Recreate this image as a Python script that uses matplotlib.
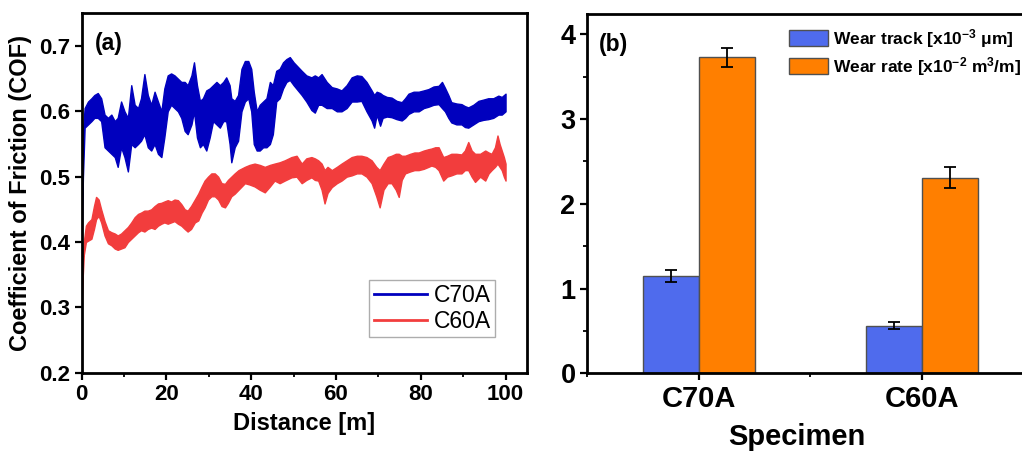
import numpy as np
import matplotlib.pyplot as plt
from matplotlib.lines import Line2D
from matplotlib.ticker import MultipleLocator

plt.rcParams['font.family'] = ['Liberation Sans', 'DejaVu Sans']
plt.rcParams['mathtext.fontset'] = 'custom'
plt.rcParams['mathtext.rm'] = 'Liberation Sans:bold'
plt.rcParams['mathtext.it'] = 'Liberation Sans:bold'
plt.rcParams['mathtext.bf'] = 'Liberation Sans:bold'

# ---- (a) COF vs distance, read as lower / upper edge of the noisy band ----
d_c70 = [0.0, 0.3, 0.7, 1.5, 2.3, 3.0, 3.8, 4.6, 5.4, 6.2, 7.0, 7.8, 8.5, 9.3, 10.1,
         10.9, 11.7, 12.5, 13.3, 14.0, 14.8, 15.6, 16.4, 17.2, 18.0, 18.8, 19.5, 20.3,
         21.1, 21.9, 22.7, 23.5, 24.3, 25.0, 25.9, 26.5, 27.2, 27.9, 28.6, 29.4, 30.2,
         31.0, 31.8, 32.6, 33.4, 34.1, 34.9, 35.3, 36.1, 36.9, 37.7, 38.5, 39.3, 40.0,
         40.6, 41.3, 42.0, 42.8, 43.6, 44.4, 45.1, 45.9, 46.7, 47.5, 48.3, 49.1, 50.0,
         51.9, 53.0, 54.2, 55.0, 55.8, 56.6, 57.8, 59.0, 60.2, 61.3, 62.5, 63.7, 64.9,
         66.0, 67.2, 68.4, 69.0, 69.6, 70.4, 71.0, 72.0, 73.1, 74.3, 75.5, 76.3, 77.1,
         78.3, 79.5, 80.7, 81.8, 83.0, 84.2, 85.0, 85.7, 86.5, 87.2, 88.4, 89.6, 90.4,
         91.2, 92.4, 93.6, 94.8, 95.9, 97.1, 98.3, 99.1, 100.0]
lo_c70 = [0.40, 0.50, 0.575, 0.58, 0.585, 0.59, 0.59, 0.585, 0.545, 0.54, 0.535, 0.53,
          0.515, 0.545, 0.53, 0.508, 0.55, 0.545, 0.55, 0.555, 0.565, 0.545, 0.54, 0.55,
          0.535, 0.53, 0.56, 0.60, 0.61, 0.605, 0.60, 0.59, 0.57, 0.565, 0.58, 0.60, 0.56,
          0.545, 0.55, 0.54, 0.56, 0.585, 0.58, 0.575, 0.585, 0.585, 0.55, 0.522, 0.545,
          0.555, 0.60, 0.615, 0.62, 0.60, 0.55, 0.54, 0.54, 0.545, 0.545, 0.55, 0.565,
          0.615, 0.62, 0.635, 0.645, 0.648, 0.64, 0.625, 0.615, 0.602, 0.598, 0.61, 0.61,
          0.605, 0.605, 0.60, 0.60, 0.605, 0.615, 0.615, 0.616, 0.60, 0.586, 0.575, 0.595,
          0.578, 0.59, 0.592, 0.591, 0.588, 0.586, 0.59, 0.596, 0.60, 0.60, 0.605, 0.607,
          0.61, 0.611, 0.605, 0.60, 0.59, 0.583, 0.58, 0.58, 0.576, 0.575, 0.58, 0.585,
          0.587, 0.588, 0.59, 0.595, 0.595, 0.60]
hi_c70 = [0.44, 0.57, 0.605, 0.615, 0.62, 0.625, 0.628, 0.62, 0.595, 0.59, 0.595, 0.585,
          0.59, 0.615, 0.60, 0.59, 0.64, 0.61, 0.605, 0.62, 0.657, 0.625, 0.61, 0.63,
          0.615, 0.60, 0.635, 0.655, 0.658, 0.655, 0.65, 0.645, 0.645, 0.64, 0.655, 0.675,
          0.64, 0.616, 0.62, 0.632, 0.635, 0.64, 0.645, 0.64, 0.645, 0.652, 0.64, 0.62,
          0.616, 0.625, 0.665, 0.677, 0.677, 0.665, 0.63, 0.60, 0.61, 0.615, 0.62, 0.645,
          0.64, 0.662, 0.665, 0.675, 0.68, 0.683, 0.675, 0.662, 0.655, 0.652, 0.655, 0.652,
          0.657, 0.645, 0.637, 0.635, 0.632, 0.64, 0.652, 0.655, 0.654, 0.645, 0.632, 0.625,
          0.63, 0.628, 0.625, 0.622, 0.621, 0.616, 0.614, 0.62, 0.627, 0.63, 0.63, 0.632,
          0.634, 0.638, 0.639, 0.645, 0.636, 0.625, 0.614, 0.612, 0.611, 0.608, 0.606, 0.61,
          0.616, 0.618, 0.62, 0.62, 0.624, 0.622, 0.627]

d_c60 = [0.0, 0.2, 0.5, 1.0, 1.5, 2.3, 2.9, 3.4, 4.0, 4.6, 5.4, 6.2, 7.0, 7.8, 8.5, 9.3,
         10.1, 10.9, 11.7, 12.5, 13.3, 14.0, 14.8, 15.6, 16.4, 17.2, 18.0, 18.8, 19.5,
         20.3, 21.1, 21.9, 22.7, 23.5, 24.3, 25.0, 25.8, 26.7, 27.5, 28.3, 29.0, 29.8,
         30.6, 31.4, 32.2, 33.0, 33.8, 34.5, 35.3, 36.1, 37.0, 38.5, 39.6, 40.8, 42.0,
         43.2, 44.4, 45.5, 46.7, 47.9, 49.5, 50.7, 51.9, 53.0, 54.2, 55.0, 55.8, 56.6,
         57.3, 58.0, 59.0, 60.2, 61.3, 62.5, 63.7, 64.9, 66.0, 67.2, 68.4, 69.5, 70.3,
         71.2, 72.2, 73.1, 74.1, 74.8, 75.5, 76.3, 77.5, 78.5, 79.5, 80.7, 81.8, 82.5,
         83.4, 84.2, 85.3, 86.2, 87.2, 88.4, 89.6, 90.4, 91.2, 92.0, 92.8, 94.0, 95.2,
         96.0, 96.7, 97.5, 98.1, 98.6, 99.1, 99.6, 100.0]
lo_c60 = [0.30, 0.34, 0.38, 0.40, 0.402, 0.405, 0.42, 0.435, 0.44, 0.43, 0.41, 0.398,
          0.395, 0.39, 0.388, 0.39, 0.392, 0.40, 0.405, 0.41, 0.415, 0.418, 0.416, 0.42,
          0.422, 0.42, 0.425, 0.428, 0.43, 0.428, 0.43, 0.432, 0.428, 0.425, 0.42, 0.416,
          0.42, 0.43, 0.433, 0.445, 0.453, 0.465, 0.47, 0.47, 0.465, 0.455, 0.453, 0.46,
          0.47, 0.474, 0.48, 0.49, 0.488, 0.485, 0.48, 0.476, 0.485, 0.494, 0.49, 0.494,
          0.499, 0.50, 0.49, 0.495, 0.499, 0.495, 0.494, 0.48, 0.459, 0.475, 0.484, 0.49,
          0.494, 0.50, 0.502, 0.505, 0.505, 0.50, 0.49, 0.47, 0.453, 0.48, 0.49, 0.49,
          0.48, 0.469, 0.495, 0.505, 0.508, 0.51, 0.51, 0.512, 0.515, 0.517, 0.515, 0.51,
          0.494, 0.50, 0.502, 0.505, 0.505, 0.51, 0.51, 0.50, 0.492, 0.50, 0.494, 0.505,
          0.51, 0.515, 0.52, 0.515, 0.51, 0.50, 0.494]
hi_c60 = [0.31, 0.37, 0.40, 0.425, 0.43, 0.435, 0.455, 0.469, 0.465, 0.45, 0.432, 0.418,
          0.415, 0.413, 0.41, 0.413, 0.418, 0.423, 0.43, 0.438, 0.443, 0.445, 0.448, 0.448,
          0.45, 0.455, 0.459, 0.46, 0.462, 0.464, 0.462, 0.465, 0.464, 0.458, 0.45, 0.448,
          0.455, 0.465, 0.474, 0.485, 0.494, 0.50, 0.505, 0.505, 0.50, 0.49, 0.489, 0.495,
          0.50, 0.505, 0.51, 0.515, 0.518, 0.52, 0.518, 0.515, 0.518, 0.52, 0.522, 0.525,
          0.53, 0.532, 0.52, 0.528, 0.53, 0.528, 0.525, 0.52, 0.51, 0.515, 0.51, 0.515,
          0.52, 0.525, 0.53, 0.532, 0.532, 0.53, 0.525, 0.515, 0.51, 0.52, 0.53, 0.532,
          0.535, 0.535, 0.532, 0.532, 0.535, 0.537, 0.537, 0.54, 0.542, 0.543, 0.545, 0.545,
          0.53, 0.532, 0.535, 0.535, 0.534, 0.54, 0.553, 0.54, 0.535, 0.535, 0.54, 0.537,
          0.535, 0.545, 0.563, 0.55, 0.54, 0.53, 0.52]

# ---- (b) wear bars ----
specimens = ['C70A', 'C60A']
wear_track = [1.15, 0.56]
wear_track_err = [0.07, 0.04]
wear_rate = [3.73, 2.31]
wear_rate_err = [0.11, 0.12]

blue_line = '#0000BE'
red_line = '#F23D3D'

fig = plt.figure(figsize=(10.22, 4.53), dpi=100)
ax1 = fig.add_axes([0.0799, 0.1773, 0.4355, 0.7933])
ax2 = fig.add_axes([0.5747, 0.1759, 0.4366, 0.7931])

ax1.fill_between(d_c70, lo_c70, hi_c70, color=blue_line, lw=1.0)
ax1.fill_between(d_c60, lo_c60, hi_c60, color=red_line, lw=1.0)
ax1.set_xlim(0, 105)
ax1.set_ylim(0.2, 0.75)
ax1.xaxis.set_major_locator(MultipleLocator(20))
ax1.xaxis.set_minor_locator(MultipleLocator(10))
ax1.yaxis.set_major_locator(MultipleLocator(0.1))
ax1.set_xlabel('Distance [m]', fontsize=17, fontweight='bold', labelpad=5)
ax1.set_ylabel('Coefficient of Friction (COF)', fontsize=17, fontweight='bold', labelpad=5)
ax1.text(0.03, 0.915, '(a)', transform=ax1.transAxes, fontsize=16.5, fontweight='bold',
         va='center', ha='left')
handles = [Line2D([], [], color=blue_line, lw=2), Line2D([], [], color=red_line, lw=2)]
leg = ax1.legend(handles, ['C70A', 'C60A'], loc='lower right', bbox_to_anchor=(0.929, 0.099),
                 borderaxespad=0, fontsize=16.5, frameon=True, fancybox=False,
                 handlelength=2.3, handletextpad=0.3, borderpad=0.2, labelspacing=0.1)
leg.get_frame().set_edgecolor('#999999')
leg.get_frame().set_linewidth(1.0)

x = np.arange(1, len(specimens) + 1)
w = 0.25
ax2.bar(x - w / 2, wear_track, w, yerr=wear_track_err, color='#4F6BED', edgecolor='#505050',
        lw=1.0, capsize=4, error_kw=dict(elinewidth=1.3, capthick=1.3),
        label='Wear track [x10$^{-3}$ μm]')
ax2.bar(x + w / 2, wear_rate, w, yerr=wear_rate_err, color='#FF7F00', edgecolor='#505050',
        lw=1.0, capsize=4, error_kw=dict(elinewidth=1.3, capthick=1.3),
        label='Wear rate [x10$^{-2}$ m$^{3}$/m]')
ax2.set_xlim(0.5, 2.5)
ax2.set_ylim(0, 4.24)
ax2.set_xticks(x)
ax2.set_xticklabels(specimens)
ax2.xaxis.set_minor_locator(MultipleLocator(0.5))
ax2.yaxis.set_major_locator(MultipleLocator(1))
ax2.yaxis.set_minor_locator(MultipleLocator(0.5))
ax2.set_xlabel('Specimen', fontsize=21, fontweight='bold', va='bottom')
ax2.xaxis.set_label_coords(0.47, -0.2175)
ax2.text(0.026, 0.914, '(b)', transform=ax2.transAxes, fontsize=16.5, fontweight='bold',
         va='center', ha='left')
ax2.legend(loc='upper left', bbox_to_anchor=(0.452, 0.965), frameon=False,
           prop=dict(weight='bold', size=12.5), handlelength=2.25, handleheight=1.1,
           handletextpad=0.3, labelspacing=0.3, borderpad=0, borderaxespad=0)

for ax in (ax1, ax2):
    for s in ax.spines.values():
        s.set_linewidth(2.0)
    ax.tick_params(which='major', direction='out', length=5, width=1.6)
    ax.tick_params(which='minor', direction='out', length=3, width=1.3)
for lab in ax1.get_xticklabels() + ax1.get_yticklabels():
    lab.set_fontsize(16)
    lab.set_fontweight('bold')
for lab in ax2.get_yticklabels():
    lab.set_fontsize(19.5)
    lab.set_fontweight('bold')
for lab in ax2.get_xticklabels():
    lab.set_fontsize(21)
    lab.set_fontweight('bold')

fig.savefig('out.png', dpi=100)
